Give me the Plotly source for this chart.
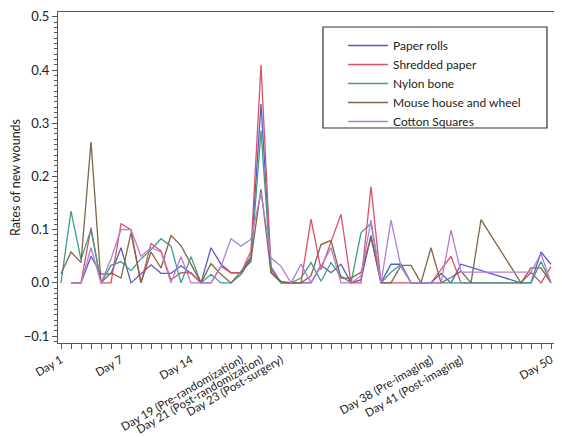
import plotly.graph_objects as go

days = list(range(1, 51))
N = None

paper_rolls = [N, 0, 0, 0.05, 0.017, 0.017, 0.066, 0, 0.017, 0.034,
               0.018, 0.018, 0.032, 0.018, 0, 0.066, 0.035, 0.019, 0.019, 0.05,
               0.336, 0.03, 0, 0, 0, 0, 0.033, 0.019, 0.035, 0,
               0.006, 0.089, 0, 0.035, 0.035, 0, 0, 0, 0.018, 0,
               0.035, 0.029, 0.023, N, N, N, 0, 0, 0.058, 0.035]

shredded_paper = [N, 0, 0, 0.104, 0, 0, 0.111, 0.1, 0, 0.074,
                  0.06, 0.006, 0.019, 0.019, 0, 0, 0.031, 0.019, 0.019, 0.06,
                  0.41, 0.025, 0, 0, 0, 0.12, 0.025, 0.077, 0.129, 0,
                  0, 0.181, 0, 0, 0, 0, 0, 0, 0.025, 0.05,
                  0, 0, 0, N, N, N, 0, 0.02, 0, 0.03]

nylon_bone = [0, 0.135, 0.044, 0.1, 0, 0.033, 0.04, 0.023, 0.045, 0.062,
              0.083, 0.069, 0, 0.049, 0, 0.016, 0, 0, 0.022, 0.04,
              0.286, 0.019, 0, 0, 0.009, 0.038, 0.003, 0.038, 0.013, 0,
              0.094, 0.112, 0, 0.02, 0.035, 0, 0, 0, 0, 0,
              0, 0, 0, N, N, N, 0, 0, 0.04, 0]

mouse_house = [0.017, 0.058, 0.038, 0.265, 0, 0.019, 0.009, 0.094, 0, 0.058,
               0.028, 0.089, 0.07, 0.035, 0, 0.036, 0.016, 0, 0.016, 0.045,
               0.176, 0.019, 0.003, 0, 0, 0.013, 0.072, 0.08, 0.009, 0.009,
               0.02, 0.085, 0, 0, 0.033, 0.033, 0, 0.066, 0, 0.01,
               0.022, 0, 0.119, N, N, N, 0, 0.028, 0.028, 0]

cotton_squares = [N, 0, 0, 0.066, 0, 0.045, 0.1, 0.1, 0.05, 0.066,
                  0.058, 0, 0.049, 0, 0, 0, 0.031, 0.083, 0.069, 0.082,
                  0.17, 0.047, 0.031, 0, 0.035, 0, 0.031, 0.066, 0, 0,
                  0.013, 0.118, 0, 0.118, 0.03, 0, 0, 0, 0, 0.099,
                  0.02, 0.02, 0.02, N, N, N, 0.02, 0.02, 0.055, 0]

series = [
    ("Paper rolls", paper_rolls, "#5a5ac6"),
    ("Shredded paper", shredded_paper, "#dc5068"),
    ("Nylon bone", nylon_bone, "#3d9e8c"),
    ("Mouse house and wheel", mouse_house, "#836445"),
    ("Cotton Squares", cotton_squares, "#b47ed2"),
]

tick_days = [1, 7, 14, 19, 21, 23, 38, 41, 50]
tick_labels = ["Day 1", "Day 7", "Day 14", "Day 19 (Pre-randomization)",
               "Day 21 (Post-randomization)", "Day 23 (Post-surgery)",
               "Day 38 (Pre-imaging)", "Day 41 (Post-imaging)", "Day 50"]

y_ticks = [-0.1, 0.0, 0.1, 0.2, 0.3, 0.4, 0.5]

fig = go.Figure()
for name, vals, col in series:
    fig.add_trace(go.Scatter(x=days, y=vals, mode="lines", name=name,
                             connectgaps=True,
                             line=dict(color=col, width=1.3)))

# page offset (body margin) compensation
OFF = 8
FIG_W, FIG_H = 562 - OFF, 437 - OFF
# plot area in page pixels: x 58..562, y 12..343
L, T = 58, 12
W, H = 562 - 58, 343 - 12


def px_x(p):
    return (p - L) / W


def px_y(p):
    return (T + H - p) / H


fig.add_shape(type="rect", xref="paper", yref="paper",
              x0=px_x(323), x1=px_x(547), y0=px_y(128), y1=px_y(27),
              line=dict(color="#333", width=1.2), fillcolor="rgba(0,0,0,0)",
              layer="above")

font = "Lato, 'Open Sans', sans-serif"
fig.update_layout(
    width=FIG_W, height=FIG_H,
    margin=dict(l=L - OFF, r=0, t=T - OFF, b=FIG_H - (T + H - OFF)),
    plot_bgcolor="white", paper_bgcolor="white",
    font=dict(family=font, size=12, color="#222"),
    showlegend=True,
    legend=dict(x=px_x(343), y=px_y(31), xanchor="left", yanchor="top",
                borderwidth=0, bgcolor="rgba(0,0,0,0)",
                font=dict(size=12, color="#222"),
                itemwidth=40, tracegroupgap=0),
    xaxis=dict(range=[0.7, 51.1], tickmode="array", tickvals=tick_days,
               ticktext=tick_labels, tickangle=-30, automargin=False,
               showgrid=False, zeroline=False, showline=True,
               linecolor="#555", linewidth=1, mirror=True,
               ticks="outside", ticklen=5, tickcolor="#555",
               tickfont=dict(size=11.5),
               minor=dict(tickmode="linear", tick0=1, dtick=1,
                          ticks="outside", ticklen=5, tickcolor="#555")),
    yaxis=dict(range=[-0.113, 0.509], tickmode="array", tickvals=y_ticks,
               tickformat=".1f", showgrid=False, zeroline=False,
               automargin=False,
               showline=True, linecolor="#555", linewidth=1,
               ticks="outside", ticklen=5, tickcolor="#555",
               tickfont=dict(size=13),
               title=dict(text="Rates of new wounds", font=dict(size=12.5), standoff=4),
               minor=dict(tickmode="linear", tick0=0, dtick=0.01,
                          ticks="outside", ticklen=3, tickcolor="#555")),
)

fig.write_html("out.html")
